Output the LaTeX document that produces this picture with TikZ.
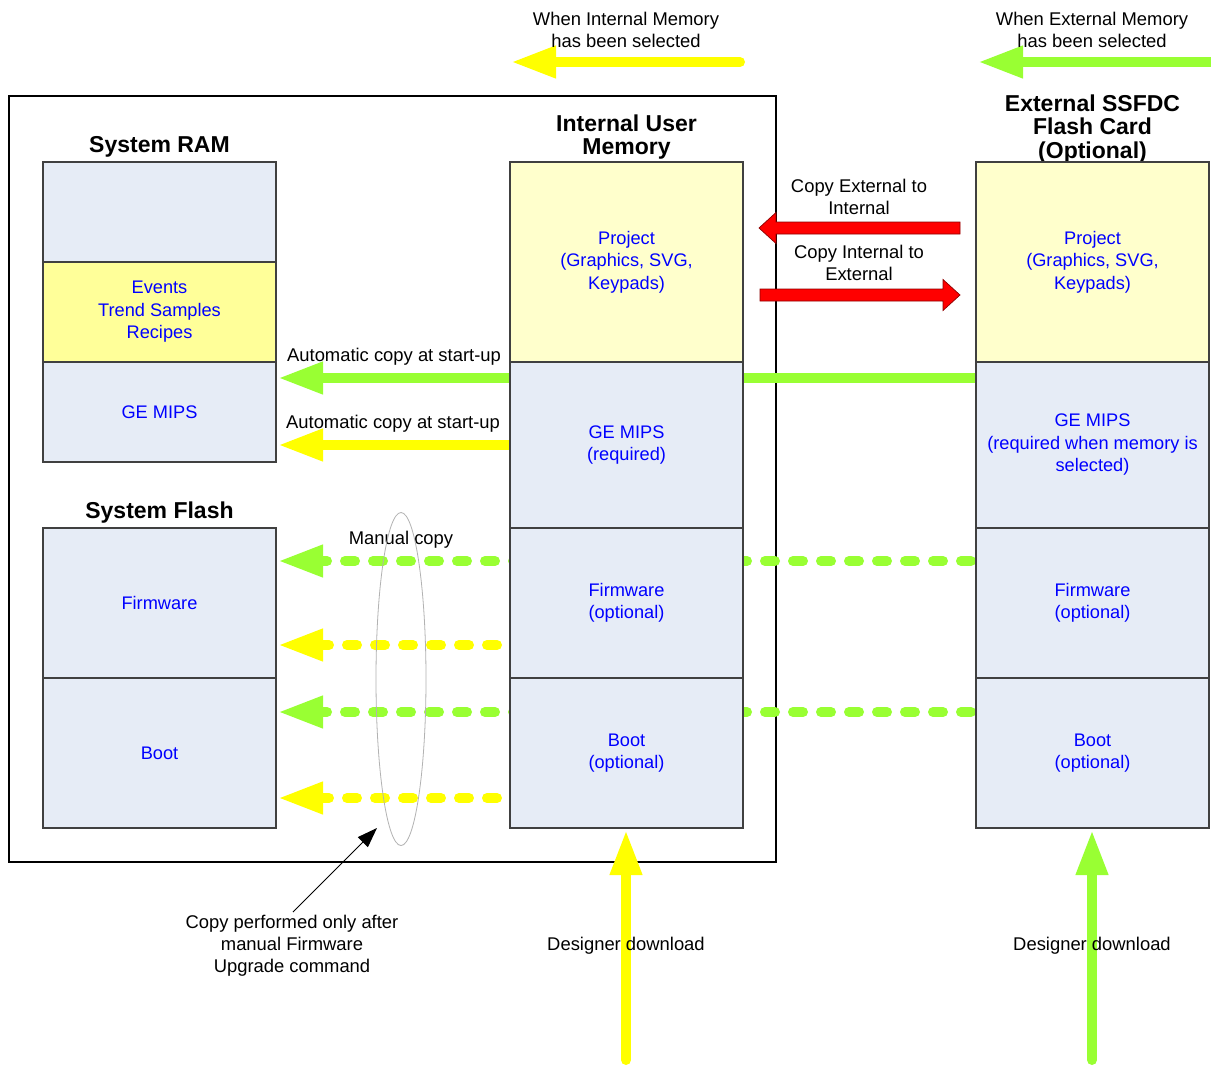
\documentclass[tikz,border=0pt]{standalone}
\usepackage{fontspec}
\setmainfont{Liberation Sans}
\usetikzlibrary{arrows.meta}
\definecolor{agreen}{RGB}{153,255,51}
\definecolor{ayellow}{RGB}{255,255,0}
\definecolor{paleyel}{RGB}{255,255,204}
\definecolor{evyel}{RGB}{255,255,153}
\definecolor{secblue}{RGB}{230,236,246}
\definecolor{secline}{RGB}{64,64,64}
\definecolor{txtblue}{RGB}{0,0,255}
\tikzset{
  txt/.style={font=\fontsize{18.4}{22}\selectfont, align=center, inner sep=0pt, text=black},
  ttl/.style={font=\bfseries\fontsize{23}{23.5}\selectfont, align=center, inner sep=0pt, text=black},
  sect/.style={draw=secline, line width=1.2pt, minimum width=233pt, inner sep=0pt, text=txtblue, align=center, font=\fontsize{18.2}{22.5}\selectfont},
  sblue/.style={sect, fill=secblue},
  spale/.style={sect, fill=paleyel},
  sev/.style={sect, fill=evyel},
  big/.style={line width=10pt, -{Triangle[length=45pt,width=30pt]}},
  bigdash/.style={big, line cap=round, dash pattern=on 10pt off 18pt},
  redarrow/.style={fill=red, draw=red!55!black, line width=0.7pt, line join=miter}
}
\begin{document}
\begin{tikzpicture}[x=1pt,y=-1pt]
\useasboundingbox (0,0) rectangle (1211,1068);
\fill[white] (0,0) rectangle (1211,1068);

% coordinates for arrow ends
\coordinate (ytopS) at (740,62);
\coordinate (ytopE) at (511,62);
\coordinate (gtopS) at (1220,62);
\coordinate (gtopE) at (978,62);
\coordinate (ga1S) at (976,378);
\coordinate (ga1E) at (278,378);
\coordinate (ya1S) at (515,445);
\coordinate (ya1E) at (278,445);
\coordinate (gd1S) at (971,561);
\coordinate (gd1E) at (278,561);
\coordinate (yd1S) at (497,645);
\coordinate (yd1E) at (278,645);
\coordinate (gd2S) at (971,712);
\coordinate (gd2E) at (278,712);
\coordinate (yd2S) at (497,798);
\coordinate (yd2E) at (278,798);
\coordinate (yvS) at (626,1060);
\coordinate (yvE) at (626,830);
\coordinate (gvS) at (1092,1060);
\coordinate (gvE) at (1092,830);

% outer box
\node[draw=black, line width=1.5pt, minimum width=767pt, minimum height=766pt, inner sep=0pt] (outer) at (392.5,479) {};

% top arrows and labels
\draw[big, ayellow, line cap=round] (ytopS) -- (ytopE);
\draw[big, agreen, line cap=round] (gtopS) -- (gtopE);
\node[txt] (tInt) at (626,30) {When Internal Memory\\has been selected};
\node[txt] (tExt) at (1092,30) {When External Memory\\has been selected};

% horizontal copy arrows (under columns)
\draw[big, agreen] (ga1S) -- (ga1E);
\draw[big, ayellow] (ya1S) -- (ya1E);
\draw[bigdash, agreen] (gd1S) -- (gd1E);
\draw[bigdash, ayellow] (yd1S) -- (yd1E);
\draw[bigdash, agreen] (gd2S) -- (gd2E);
\draw[bigdash, ayellow] (yd2S) -- (yd2E);

% System RAM
\node[ttl] (ramT) at (159.5,147) {System RAM};
\node[sblue, minimum height=100pt] (ramTop) at (159.5,212) {};
\node[sev, minimum height=100pt] (ramEv) at (159.5,312) {Events\\Trend Samples\\Recipes};
\node[sblue, minimum height=100pt] (ramGE) at (159.5,412) {GE MIPS};

% System Flash
\node[ttl] (flT) at (159.5,513) {System Flash};
\node[sblue, minimum height=150pt] (flFw) at (159.5,603) {Firmware};
\node[sblue, minimum height=150pt] (flBoot) at (159.5,753) {Boot};

% Internal User Memory
\node[ttl] (inT) at (626.5,137) {Internal User\\Memory};
\node[spale, minimum height=200pt] (inProj) at (626.5,262) {Project\\(Graphics, SVG,\\Keypads)};
\node[sblue, minimum height=166pt] (inGE) at (626.5,445) {GE MIPS\\(required)};
\node[sblue, minimum height=150pt] (inFw) at (626.5,603) {Firmware\\(optional)};
\node[sblue, minimum height=150pt] (inBoot) at (626.5,753) {Boot\\(optional)};

% External
\node[ttl] (exT) at (1092.5,129) {External SSFDC\\Flash Card\\(Optional)};
\node[spale, minimum height=200pt] (exProj) at (1092.5,262) {Project\\(Graphics, SVG,\\Keypads)};
\node[sblue, minimum height=166pt] (exGE) at (1092.5,445) {GE MIPS\\(required when memory is\\selected)};
\node[sblue, minimum height=150pt] (exFw) at (1092.5,603) {Firmware\\(optional)};
\node[sblue, minimum height=150pt] (exBoot) at (1092.5,753) {Boot\\(optional)};

% labels for copies
\node[txt] (lAuto1) at (394,357) {Automatic copy at start-up};
\node[txt] (lAuto2) at (393,424) {Automatic copy at start-up};
\node[txt] (lMan) at (401,540) {Manual copy};

% red arrows
\node[txt] (lEI) at (859,197) {Copy External to\\Internal};
\node[txt] (lIE) at (859,263) {Copy Internal to\\External};
\coordinate (r1tip) at (759,228);
\coordinate (r2tip) at (960,295);
\draw[redarrow] (r1tip) -- ++(17,-15.5) -- ++(0,9.5) -- ++(184,0) -- ++(0,12) -- ++(-184,0) -- ++(0,9.5) -- cycle;
\draw[redarrow] (r2tip) -- ++(-17,-15.5) -- ++(0,9.5) -- ++(-183,0) -- ++(0,12) -- ++(183,0) -- ++(0,9.5) -- cycle;

% ellipse
\draw[black!30, line width=0.8pt] (401,679) ellipse [x radius=25, y radius=166.5];

% note pointer
\node[txt] (note) at (292,946) {Copy performed only after\\manual Firmware\\Upgrade command};
\coordinate (noteS) at (293,912);
\coordinate (noteE) at (377,828);
\draw[black, line width=0.9pt, -{Triangle[length=20pt,width=14pt]}] (noteS) -- (noteE);

% vertical download arrows
\draw[big, ayellow, line cap=round] (yvS) -- (yvE);
\draw[big, agreen, line cap=round] (gvS) -- (gvE);
\node[txt] (dl1) at (626,946) {Designer download};
\node[txt] (dl2) at (1092,946) {Designer download};
\end{tikzpicture}
\end{document}
